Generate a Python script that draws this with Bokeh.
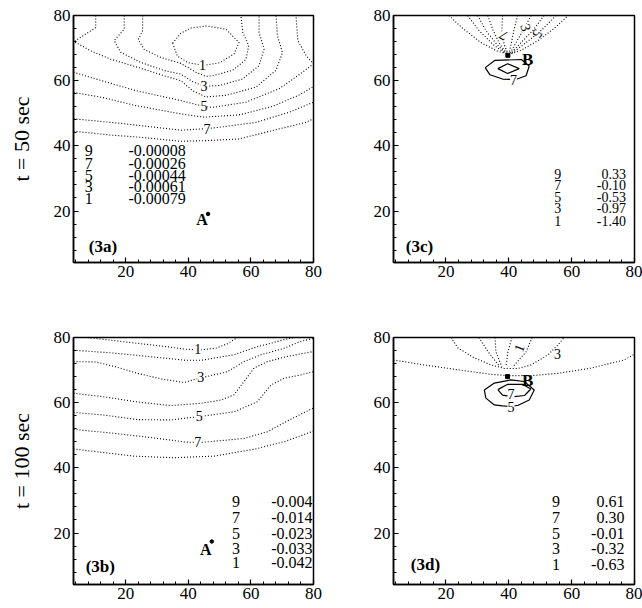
from bokeh.plotting import figure
from bokeh.layouts import gridplot
from bokeh.models import ColumnDataSource, LabelSet, FixedTicker, Range1d
from bokeh.core.properties import value
from bokeh.embed import file_html
from bokeh.resources import INLINE

# ---------------- data ----------------
TICKS = [20, 40, 60, 80]
MINOR_TICKS = [4, 8, 12, 16, 24, 28, 32, 36, 44, 48, 52, 56, 64, 68, 72, 76]
LEVELS = ["9", "7", "5", "3", "1"]
ROW_TITLES = ["t = 50 sec", "t = 100 sec"]

# panel 3a : dotted contour lines
A_LINES_X = [
    [35.0, 37.5, 41.0, 46.0, 52.0, 56.2, 54.6, 50.0, 45.0, 40.0, 36.5, 35.0],
    [25.4, 25.4, 24.0, 25.9, 31.2, 37.6, 42.4, 45.6, 47.8, 54.2, 58.4, 59.3, 57.4, 56.8],
    [19.5, 19.5, 16.3, 18.4, 24.8, 32.3, 37.6, 41.4, 45.0, 49.9, 57.3, 62.6, 64.2, 62.6, 62.6],
    [10.4, 10.4, 3.5, 8.7, 15.2, 23.8, 32.3, 37.6, 41.4, 45.6, 52.0, 61.6, 68.0, 70.1, 68.5, 68.0],
    [3.3, 12.3, 23.0, 37.6, 45.0, 47.7, 58.4, 69.0, 76.5, 80.0, 77.6, 75.0, 74.4],
    [3.3, 12.3, 23.0, 37.6, 45.0, 56.2, 66.9, 75.4, 80.0],
    [3.3, 18.4, 37.6, 46.0, 49.9, 61.6, 72.2, 80.0],
    [3.3, 15.2, 23.8, 37.6, 45.6, 56.2, 66.9, 77.6, 80.0],
]
A_LINES_Y = [
    [71.5, 74.5, 76.2, 76.8, 75.8, 71.7, 68.2, 65.5, 64.7, 65.5, 67.5, 71.5],
    [80, 75.4, 72.6, 69.6, 67.1, 65.3, 62.6, 61.3, 61.5, 63.2, 66.5, 70.8, 74.8, 80],
    [80, 75.8, 72.3, 68.7, 65.6, 63.1, 62.0, 59.7, 58.3, 58.5, 60.5, 64.6, 69.7, 74.8, 80],
    [80, 76.3, 72.0, 69.2, 66.6, 64.1, 61.5, 60.0, 56.9, 55.0, 55.5, 58.0, 63.2, 68.6, 73.7, 80],
    [62.6, 60.0, 57.0, 53.9, 52.1, 51.8, 53.4, 57.5, 62.6, 65.2, 67.8, 72.3, 80],
    [56.4, 54.9, 52.4, 49.8, 48.8, 49.5, 52.1, 55.6, 58.2],
    [48.3, 46.9, 44.8, 45.3, 45.7, 47.2, 50.3, 53.4],
    [44.5, 43.3, 42.7, 41.4, 41.6, 42.1, 44.7, 47.2, 48.3],
]
A_LABEL_TEXT = ["1", "3", "5", "7"]
A_LABEL_X = [44.5, 45.0, 45.0, 46.0]
A_LABEL_Y = [64.8, 58.3, 52.1, 45.3]
A_VALUES = ["-0.00008", "-0.00026", "-0.00044", "-0.00061", "-0.00079"]

# panel 3b : dotted contour lines
B_LINES_X = [
    [7.8, 18.4, 31.2, 39.2, 44.0, 48.8, 52.5, 55.7],
    [3.3, 15.2, 28.0, 39.2, 44.0, 54.5, 62.1, 70.5, 73.7],
    [3.3, 10.4, 16.8, 23.8, 31.2, 38.6, 44.0, 52.5, 57.8, 63.2, 70.6, 75.9, 80.0],
    [3.3, 13.0, 23.8, 34.4, 44.0, 50.4, 54.6, 57.8, 61.0, 65.3, 71.7, 80.0],
    [3.3, 13.0, 23.8, 34.4, 44.0, 54.6, 62.1, 66.4, 70.6, 75.9, 80.0],
    [3.3, 15.2, 28.0, 39.2, 44.0, 57.8, 65.3, 71.7, 80.0],
    [3.3, 22.6, 35.4, 48.2, 61.0, 71.2, 80.0],
]
B_LINES_Y = [
    [80, 78.8, 77.4, 76.4, 76.2, 76.7, 78.1, 80],
    [76.1, 75.3, 74.1, 73.0, 73.0, 74.7, 77.2, 79.3, 80],
    [72.6, 72.5, 71.0, 69.0, 67.3, 66.2, 67.6, 69.5, 72.6, 74.7, 76.7, 78.8, 79.75],
    [62.9, 61.8, 60.2, 59.1, 59.8, 60.8, 62.4, 66.5, 70.6, 72.6, 74.2, 75.7],
    [57.0, 56.2, 54.8, 54.7, 55.8, 57.2, 60.3, 65.4, 67.5, 68.5, 69.5],
    [51.8, 50.7, 49.3, 47.9, 47.8, 49.0, 51.1, 54.4, 58.4],
    [45.8, 43.6, 43.1, 43.6, 45.7, 48.2, 51.3],
]
B_LABEL_TEXT = ["1", "3", "5", "7"]
B_LABEL_X = [43.0, 44.0, 43.5, 43.0]
B_LABEL_Y = [76.4, 67.9, 55.9, 47.8]
B_VALUES = ["-0.004", "-0.014", "-0.023", "-0.033", "-0.042"]

# panel 3c : dotted fan + solid loops
C_LINES_X = [
    [20.9, 25.4, 31.1, 36.5, 40.1, 43.9, 49.3, 54.4, 58.9],
    [26.9, 30.5, 35.0, 38.8],
    [30.1, 32.7, 36.2, 39.1],
    [33.3, 35.0, 37.2, 39.4],
    [38.0, 37.8, 38.5, 39.7],
    [42.8, 41.6, 40.7, 40.1],
    [47.1, 44.5, 42.3, 40.4],
    [51.2, 47.7, 43.9, 40.7],
    [55.0, 50.3, 45.5, 41.0],
]
C_LINES_Y = [
    [80, 76.0, 71.7, 69.0, 68.1, 69.3, 72.3, 76.0, 80],
    [80, 75.4, 71.1, 68.4],
    [80, 75.4, 71.1, 68.4],
    [80, 75.4, 71.1, 68.4],
    [80, 75.4, 71.1, 68.4],
    [80, 75.4, 71.1, 68.4],
    [80, 75.4, 71.7, 68.4],
    [80, 75.4, 71.7, 68.4],
    [80, 75.4, 71.7, 68.4],
]
C_SOLID_X = [
    [32.5, 35.5, 44.0, 46.5, 45.5, 42.0, 38.0, 34.0, 32.5],
    [36.5, 39.6, 43.3, 39.6, 36.5],
]
C_SOLID_Y = [
    [64.0, 66.2, 66.5, 64.5, 61.5, 60.3, 60.5, 61.8, 64.0],
    [63.7, 65.2, 63.7, 62.2, 63.7],
]
C_LABEL_TEXT = ["7", "7", "3", "5"]
C_LABEL_X = [41.5, 38.3, 45.5, 49.2]
C_LABEL_Y = [60.3, 73.8, 76.3, 74.3]
C_LABEL_ANGLE = [0.0, 2.6, -1.3, -2.2]
C_VALUES = ["0.33", "-0.10", "-0.53", "-0.97", "-1.40"]

# panel 3d : dotted arcs + solid loops
D_LINES_X = [
    [3.3, 13.0, 23.8, 34.3, 39.7, 47.1, 55.7, 66.2, 76.7, 80.0],
    [21.6, 23.8, 28.9, 34.3, 38.5, 42.9, 47.1, 52.5, 55.7, 57.6],
    [30.5, 33.4, 36.9],
    [35.6, 35.9, 37.8],
    [41.0, 39.7, 39.1],
    [47.4, 45.5, 41.3],
]
D_LINES_Y = [
    [73.1, 71.6, 70.1, 68.7, 68.3, 68.3, 69.0, 70.6, 73.1, 74.9],
    [80, 76.8, 73.8, 71.6, 70.5, 70.5, 71.6, 74.7, 77.8, 80],
    [80, 75.6, 71.3],
    [80, 75.6, 71.0],
    [80, 75.6, 71.0],
    [80, 75.6, 71.0],
]
D_SOLID_X = [
    [32.2, 35.4, 40.7, 44.9, 48.1, 46.5, 43.0, 40.7, 38.0, 35.4, 32.7, 32.2],
    [36.5, 39.5, 44.5, 47.0, 45.0, 41.0, 38.0, 36.5],
]
D_SOLID_Y = [
    [63.9, 66.0, 67.0, 66.5, 63.9, 60.8, 59.2, 58.8, 59.0, 59.3, 61.4, 63.9],
    [64.0, 65.6, 65.6, 64.2, 62.2, 61.8, 62.3, 64.0],
]
D_LABEL_TEXT = ["3", "1", "7", "5"]
D_LABEL_X = [55.5, 43.3, 40.7, 40.7]
D_LABEL_Y = [75.0, 76.8, 62.6, 58.8]
D_LABEL_ANGLE = [0.0, 1.2, 0.0, 0.0]
D_VALUES = ["0.61", "0.30", "-0.01", "-0.32", "-0.63"]

# point markers (A and B)
A_POINT = {"a": (44.4, 17.5, 46.3, 19.1), "b": (45.6, 14.9, 47.5, 17.4)}
B_POINT = {"c": (46.0, 66.5, 39.7, 67.8), "d": (46.0, 66.7, 39.6, 68.0)}

# ---------------- layout / style ----------------
X0, X1 = 3.3, 80.0
Y0, Y1 = 4.2, 80.0
FONT = "Liberation Serif"


def panel(width, height, bl, br, bt, bb, ylabel=None):
    p = figure(width=width, height=height, x_range=Range1d(X0, X1), y_range=Range1d(Y0, Y1),
               output_backend="svg", toolbar_location=None,
               min_border_left=bl, min_border_right=br, min_border_top=bt, min_border_bottom=bb)
    p.xgrid.visible = False
    p.ygrid.visible = False
    p.outline_line_color = "black"
    p.outline_line_width = 1.5
    p.outline_line_alpha = 1.0
    for ax in (p.xaxis[0], p.yaxis[0]):
        ax.ticker = FixedTicker(ticks=TICKS, minor_ticks=MINOR_TICKS)
        ax.major_tick_in = 5
        ax.major_tick_out = 0
        ax.minor_tick_in = 3
        ax.minor_tick_out = 0
        ax.axis_line_width = 1.5
        ax.axis_line_color = "black"
        ax.major_tick_line_color = "black"
        ax.minor_tick_line_color = "black"
        ax.major_tick_line_width = 1.2
        ax.major_label_text_font = FONT
        ax.major_label_text_font_size = "17px"
        ax.major_label_text_color = "black"
        ax.major_label_standoff = 3
    if ylabel:
        p.yaxis.axis_label = ylabel
        p.yaxis.axis_label_text_font = FONT
        p.yaxis.axis_label_text_font_style = "normal"
        p.yaxis.axis_label_text_font_size = "22px"
        p.yaxis.axis_label_text_color = "black"
        p.yaxis.axis_label_standoff = 17
    return p


def add_lines(p, xs, ys, dotted=True):
    src = ColumnDataSource(dict(xs=xs, ys=ys))
    if dotted:
        p.multi_line(xs="xs", ys="ys", source=src, line_color="black", line_width=1.1, line_dash="1 2")
    else:
        p.multi_line(xs="xs", ys="ys", source=src, line_color="black", line_width=1.2)


def add_contour_labels(p, xs, ys, texts, angles=None):
    if angles is None:
        angles = [0.0] * len(xs)
    src = ColumnDataSource(dict(x=xs, y=ys, t=texts, a=angles))
    ls = LabelSet(x="x", y="y", text="t", angle="a", source=src,
                  text_font=value(FONT), text_font_size="14px", text_align="center",
                  text_baseline="middle", text_color="black", background_fill_color="white")
    p.add_layout(ls)


def add_text(p, xs, ys, texts, size, align, bold=False):
    src = ColumnDataSource(dict(x=xs, y=ys, t=texts))
    p.text(x="x", y="y", text="t", source=src, text_font=value(FONT), text_font_size=size,
           text_align=align, text_baseline="middle", text_color="black",
           text_font_style="bold" if bold else "normal")


def add_legend(p, values, level_x, value_x, ys, size):
    add_text(p, [level_x] * len(LEVELS), ys, LEVELS, size, "center")
    add_text(p, [value_x] * len(values), ys, values, size, "right")


# 3a
pa = panel(330, 298, 73, 17, 15, 36, ROW_TITLES[0])
add_lines(pa, A_LINES_X, A_LINES_Y)
add_contour_labels(pa, A_LABEL_X, A_LABEL_Y, A_LABEL_TEXT)
add_legend(pa, A_VALUES, 8.2, 39.2, [38.7, 34.6, 31.0, 27.4, 23.7], "16px")
add_text(pa, [8.2], [9.0], ["(3a)"], "17px", "left", bold=True)
ax_, ay_, dx_, dy_ = A_POINT["a"]
add_text(pa, [ax_], [ay_], ["A"], "16px", "center", bold=True)
pa.scatter([dx_], [dy_], marker="circle", size=3.5, color="black")

# 3c
pc = panel(312, 298, 63, 8, 15, 36)
add_lines(pc, C_LINES_X, C_LINES_Y)
add_lines(pc, C_SOLID_X, C_SOLID_Y, dotted=False)
add_contour_labels(pc, C_LABEL_X, C_LABEL_Y, C_LABEL_TEXT, C_LABEL_ANGLE)
add_legend(pc, C_VALUES, 55.6, 77.3, [31.5, 28.0, 24.4, 20.8, 17.0], "14px")
add_text(pc, [7.2], [9.1], ["(3c)"], "17px", "left", bold=True)
bx_, by_, mx_, my_ = B_POINT["c"]
pc.scatter([mx_], [my_], marker="square", size=4, color="black")
add_text(pc, [bx_], [by_], ["B"], "17px", "center", bold=True)

# 3b
pb = panel(330, 310, 73, 17, 39, 24, ROW_TITLES[1])
add_lines(pb, B_LINES_X, B_LINES_Y)
add_contour_labels(pb, B_LABEL_X, B_LABEL_Y, B_LABEL_TEXT)
add_legend(pb, B_VALUES, 55.2, 79.7, [29.8, 24.8, 20.0, 15.4, 10.8], "16px")
add_text(pb, [7.2], [9.8], ["(3b)"], "17px", "left", bold=True)
ax_, ay_, dx_, dy_ = A_POINT["b"]
add_text(pb, [ax_], [ay_], ["A"], "16px", "center", bold=True)
pb.scatter([dx_], [dy_], marker="circle", size=3.5, color="black")

# 3d
pd_ = panel(312, 310, 63, 8, 39, 24)
add_lines(pd_, D_LINES_X, D_LINES_Y)
add_lines(pd_, D_SOLID_X, D_SOLID_Y, dotted=False)
add_contour_labels(pd_, D_LABEL_X, D_LABEL_Y, D_LABEL_TEXT, D_LABEL_ANGLE)
add_legend(pd_, D_VALUES, 55.0, 76.8, [29.8, 24.8, 20.0, 15.4, 10.3], "16px")
add_text(pd_, [8.8], [10.3], ["(3d)"], "17px", "left", bold=True)
bx_, by_, mx_, my_ = B_POINT["d"]
pd_.scatter([mx_], [my_], marker="square", size=4, color="black")
add_text(pd_, [bx_], [by_], ["B"], "17px", "center", bold=True)

grid = gridplot([[pa, pc], [pb, pd_]], toolbar_location=None)

open("out.html", "w").write(file_html(grid, INLINE))
